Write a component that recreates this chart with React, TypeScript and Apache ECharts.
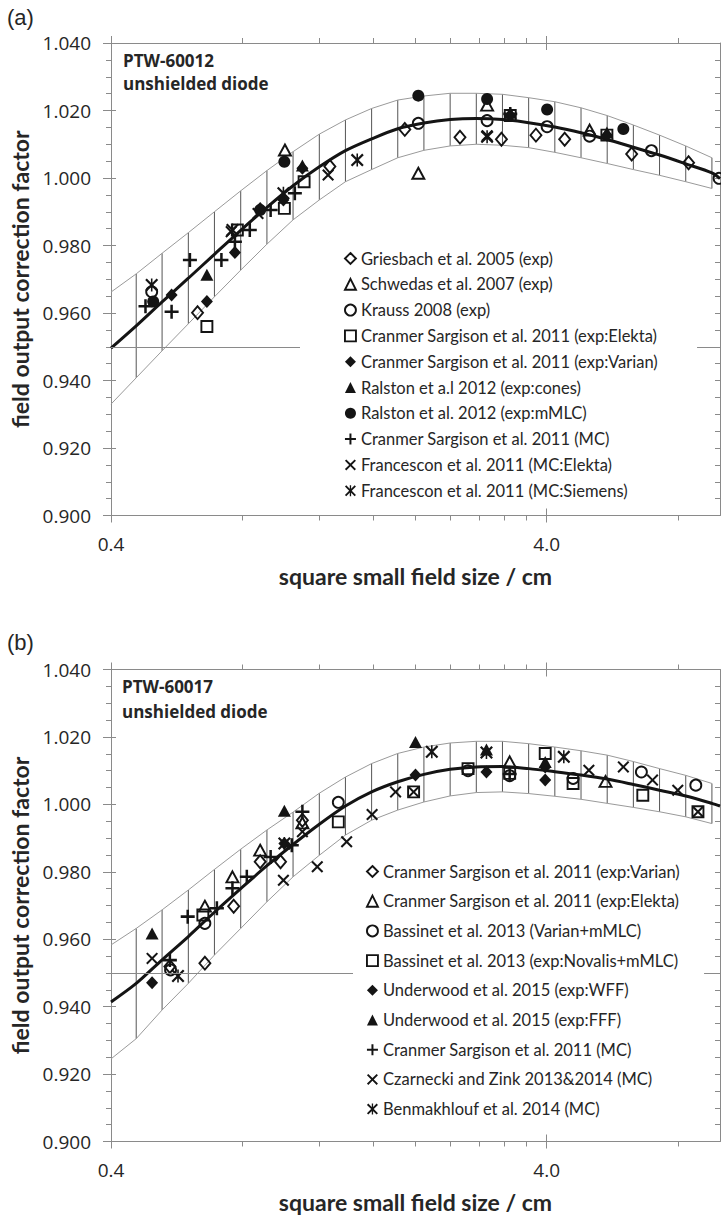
import React, { useEffect, useRef } from 'react';
import * as echarts from 'echarts';

// ---------------- data ----------------
// x positions of the hatch lines of the uncertainty band (cm)
const hatchX = [0.457, 0.524, 0.602, 0.691, 0.794, 0.912, 1.047, 1.203, 1.381, 1.586, 1.821, 2.091, 2.402, 2.758, 3.167, 3.637, 4.177, 4.797, 5.509, 6.326, 7.265, 8.344, 9.582];
const bandX = [0.4, ...hatchX];
const fitX = [0.4, ...hatchX, 10];

// panel (a) band and fit
const bandUpperA = [0.9662, 0.9716, 0.9777, 0.9838, 0.99, 0.9962, 1.0022, 1.0078, 1.013, 1.0172, 1.0206, 1.0231, 1.0243, 1.0251, 1.0251, 1.0248, 1.0238, 1.0226, 1.0208, 1.0185, 1.0157, 1.0127, 1.0095, 1.006];
const bandLowerA = [0.933, 0.9408, 0.9488, 0.9568, 0.9648, 0.9727, 0.9804, 0.9876, 0.9935, 0.9989, 1.0025, 1.006, 1.0082, 1.0095, 1.01, 1.0097, 1.009, 1.0076, 1.006, 1.0043, 1.0025, 1.0008, 0.9989, 0.9969];
const fitA = [0.9496, 0.9562, 0.9633, 0.9703, 0.9774, 0.9845, 0.9913, 0.9977, 1.0033, 1.0081, 1.0116, 1.0146, 1.0163, 1.0173, 1.0176, 1.0173, 1.0164, 1.0151, 1.0134, 1.0114, 1.0091, 1.0068, 1.0042, 1.0015, 0.9998];

// panel (b) band and fit
const bandUpperB = [0.9583, 0.9632, 0.9687, 0.9746, 0.9807, 0.9867, 0.9924, 0.9977, 1.0033, 1.0081, 1.0121, 1.0151, 1.017, 1.0182, 1.0187, 1.0187, 1.018, 1.017, 1.0159, 1.0146, 1.0127, 1.0106, 1.0086, 1.0062];
const bandLowerB = [0.9245, 0.9305, 0.939, 0.9469, 0.9553, 0.9632, 0.9711, 0.9785, 0.9849, 0.9909, 0.9953, 0.9983, 1.0007, 1.0025, 1.0035, 1.0037, 1.0032, 1.0024, 1.0015, 1.0003, 0.9991, 0.9978, 0.9963, 0.9943];
const fitB = [0.9414, 0.9469, 0.9539, 0.9608, 0.968, 0.975, 0.9818, 0.9881, 0.9941, 0.9995, 1.0037, 1.0067, 1.0089, 1.0104, 1.0111, 1.0112, 1.0106, 1.0097, 1.0087, 1.0075, 1.0059, 1.0042, 1.0025, 1.0003, 0.9995];

const refLine = 0.95;

// axis ticks
const xTickMinor = [0.8, 1.2, 1.6, 2.0, 2.4, 2.8, 3.2, 3.6, 8.0];
const xTickMajor = [0.4, 4.0];
const xTickLabels = [0.4, 4.0];

// panel (a) measurements [field size cm, factor]
const griesbach2005 = [[0.632, 0.9601], [1.272, 1.0034], [1.89, 1.0144], [2.53, 1.0121], [3.15, 1.0115], [3.78, 1.0127], [4.4, 1.0115], [6.27, 1.0071], [8.47, 1.0045]];
const schwedas2007 = [[1.003, 1.0083], [2.03, 1.0014], [2.92, 1.0216], [5.02, 1.0142]];
const krauss2008 = [[0.496, 0.9663], [2.03, 1.0162], [2.92, 1.017], [4.01, 1.0152], [5.02, 1.0124], [6.96, 1.0081], [9.95, 0.9999]];
const cranmerElektaA = [[0.664, 0.956], [0.78, 0.9846], [1.0, 0.991], [1.11, 0.9989], [3.3, 1.0185], [5.5, 1.0127]];
const cranmerVarianA = [[0.551, 0.9653], [0.664, 0.9634], [0.77, 0.9779], [0.88, 0.991], [0.995, 0.9935], [1.1, 1.0029], [3.3, 1.0185], [5.5, 1.0127]];
const ralstonCones = [[0.664, 0.9713], [1.1, 1.0037], [3.3, 1.0193], [5.5, 1.0135]];
const ralstonMMLC = [[0.5, 0.9634], [0.88, 0.9905], [1.0, 1.0048], [2.03, 1.0244], [2.92, 1.0234], [4.01, 1.0203], [6.0, 1.0145]];
const cranmerMCA = [[0.48, 0.962], [0.551, 0.9604], [0.607, 0.9757], [0.717, 0.9757], [0.77, 0.9811], [0.833, 0.9846], [0.93, 0.9905], [1.057, 0.9955], [3.3, 1.019]];
const francesconElekta = [[0.755, 0.9841], [0.87, 0.9895], [1.26, 1.0009], [2.92, 1.0125]];
const francesconSiemens = [[0.496, 0.9683], [0.76, 0.9846], [0.995, 0.9955], [1.47, 1.0053], [2.92, 1.0122]];

// panel (b) measurements
const cranmerVarianB = [[0.546, 0.9519], [0.657, 0.9529], [0.765, 0.9698], [0.88, 0.983], [0.98, 0.983], [1.1, 0.9953]];
const cranmerElektaB = [[0.657, 0.9698], [0.76, 0.9785], [0.88, 0.9864], [1.1, 0.9945], [3.29, 1.0126], [5.46, 1.0068]];
const bassinetVarian = [[0.548, 0.9509], [0.657, 0.9647], [1.33, 1.0006], [2.64, 1.01], [3.29, 1.0085], [4.6, 1.0077], [6.6, 1.0096], [8.8, 1.0057]];
const bassinetNovalis = [[0.65, 0.9672], [1.33, 0.9948], [1.98, 1.0037], [2.64, 1.0106], [3.29, 1.0092], [3.97, 1.0151], [4.6, 1.0062], [6.65, 1.0027], [8.9, 0.9978]];
const underwoodWFF = [[0.497, 0.9471], [1.0, 0.9884], [2.0, 1.0087], [2.91, 1.0096], [3.97, 1.0111], [3.97, 1.0072]];
const underwoodFFF = [[0.497, 0.9617], [1.0, 0.9981], [2.0, 1.0185], [2.91, 1.0163], [3.97, 1.0126]];
const cranmerMCB = [[0.546, 0.9538], [0.6, 0.9667], [0.7, 0.9692], [0.76, 0.9751], [0.82, 0.9785], [0.93, 0.9844], [1.04, 0.9879], [1.1, 0.9978], [3.29, 1.009]];
const czarnecki = [[0.497, 0.9543], [0.995, 0.9775], [1.1, 0.9919], [1.19, 0.9815], [1.39, 0.9889], [1.59, 0.997], [1.8, 1.0037], [1.98, 1.0037], [5.0, 1.0101], [6.0, 1.0111], [7.0, 1.0072], [8.0, 1.0042], [8.9, 0.9978]];
const benmakhlouf = [[0.57, 0.9491], [1.0, 0.9884], [2.18, 1.0156], [2.91, 1.0154], [4.38, 1.0141]];

// ---------------- styles ----------------
const INK = '#141414';
const TXT = '#262626';
const AXIS = '#8a8a8a';
const HOLLOW = 'rgba(255,255,255,0)';
const PLUS = 'path://M8.2,0H11.8V8.2H20V11.8H11.8V20H8.2V11.8H0V8.2H8.2Z';
const CROSS = 'path://M0,2.4L2.4,0L10,7.6L17.6,0L20,2.4L12.4,10L20,17.6L17.6,20L10,12.4L2.4,20L0,17.6L7.6,10Z';
const STAR = 'path://M0,2.4L2.4,0L10,7.6L17.6,0L20,2.4L12.4,10L20,17.6L17.6,20L10,12.4L2.4,20L0,17.6L7.6,10ZM8.8,0H11.2V20H8.8Z';

type Mark = { symbol: string; size: number | number[]; style: any };
const hollow = { color: HOLLOW, borderColor: INK, borderWidth: 1.9, opacity: 1 };
const solid = { color: INK, borderWidth: 0, opacity: 1 };
const M: Record<string, Mark> = {
  openDiamond: { symbol: 'diamond', size: [11, 13], style: hollow },
  openTriangle: { symbol: 'triangle', size: [12, 11], style: hollow },
  openCircle: { symbol: 'circle', size: 11, style: hollow },
  openSquare: { symbol: 'rect', size: 11, style: hollow },
  filledDiamond: { symbol: 'diamond', size: [12, 13], style: solid },
  filledTriangle: { symbol: 'triangle', size: [13, 12], style: solid },
  filledCircle: { symbol: 'circle', size: 12, style: solid },
  plus: { symbol: PLUS, size: 14, style: solid },
  cross: { symbol: CROSS, size: 12, style: solid },
  star: { symbol: STAR, size: 13, style: solid },
};

const panelASeries: [string, number[][], string][] = [
  ['Griesbach et al. 2005 (exp)', griesbach2005, 'openDiamond'],
  ['Schwedas et al. 2007 (exp)', schwedas2007, 'openTriangle'],
  ['Krauss 2008 (exp)', krauss2008, 'openCircle'],
  ['Cranmer Sargison et al. 2011 (exp:Elekta)', cranmerElektaA, 'openSquare'],
  ['Cranmer Sargison et al. 2011 (exp:Varian)', cranmerVarianA, 'filledDiamond'],
  ['Ralston et a.l 2012 (exp:cones)', ralstonCones, 'filledTriangle'],
  ['Ralston et al. 2012 (exp:mMLC)', ralstonMMLC, 'filledCircle'],
  ['Cranmer Sargison et al. 2011 (MC)', cranmerMCA, 'plus'],
  ['Francescon et al. 2011 (MC:Elekta)', francesconElekta, 'cross'],
  ['Francescon et al. 2011 (MC:Siemens)', francesconSiemens, 'star'],
];
const panelBSeries: [string, number[][], string][] = [
  ['Cranmer Sargison et al. 2011 (exp:Varian)', cranmerVarianB, 'openDiamond'],
  ['Cranmer Sargison et al. 2011 (exp:Elekta)', cranmerElektaB, 'openTriangle'],
  ['Bassinet et al. 2013 (Varian+mMLC)', bassinetVarian, 'openCircle'],
  ['Bassinet et al. 2013 (exp:Novalis+mMLC)', bassinetNovalis, 'openSquare'],
  ['Underwood et al. 2015 (exp:WFF)', underwoodWFF, 'filledDiamond'],
  ['Underwood et al. 2015 (exp:FFF)', underwoodFFF, 'filledTriangle'],
  ['Cranmer Sargison et al. 2011 (MC)', cranmerMCB, 'plus'],
  ['Czarnecki and Zink 2013&2014 (MC)', czarnecki, 'cross'],
  ['Benmakhlouf et al. 2014 (MC)', benmakhlouf, 'star'],
];

const GRIDS = [
  { top: 43, height: 472.5 },
  { top: 669.5, height: 472 },
];

const tickLine = { color: AXIS, width: 1 };

function xAxesFor(g: number) {
  const base: any = {
    type: 'log', logBase: 10, min: 0.4, max: 10, gridIndex: g, silent: true,
    splitLine: { show: false }, axisLine: { show: false, onZero: false },
    axisTick: { show: false }, axisLabel: { show: false },
  };
  return [
    {
      ...base, position: 'bottom',
      axisLine: { show: true, onZero: false, lineStyle: tickLine },
      axisTick: { show: true, customValues: xTickMinor, length: 5, lineStyle: tickLine },
      axisLabel: {
        show: true, customValues: xTickLabels, formatter: (v: number) => Number(v).toFixed(1),
        margin: 19, fontFamily: 'Open Sans', fontSize: 19, color: TXT,
      },
      name: 'square small field size / cm', nameLocation: 'middle', nameGap: 49,
      nameTextStyle: { fontFamily: 'Lato', fontWeight: 'bold', fontSize: 23, color: TXT },
    },
    { ...base, position: 'bottom', axisTick: { show: true, customValues: xTickMajor, length: 7, lineStyle: tickLine } },
    { ...base, position: 'bottom', axisTick: { show: true, inside: true, customValues: [4], length: 7, lineStyle: tickLine } },
    {
      ...base, position: 'top',
      axisLine: { show: true, onZero: false, lineStyle: tickLine },
      axisTick: { show: true, customValues: xTickMinor, length: 5, lineStyle: tickLine },
    },
    { ...base, position: 'top', axisTick: { show: true, customValues: xTickMajor, length: 7, lineStyle: tickLine } },
    { ...base, position: 'top', axisTick: { show: true, inside: true, customValues: [4], length: 7, lineStyle: tickLine } },
  ];
}

function yAxesFor(g: number) {
  const base: any = {
    type: 'value', min: 0.9, max: 1.04, interval: 0.02, gridIndex: g, silent: true,
    splitLine: { show: false }, axisLine: { show: false, onZero: false },
    axisTick: { show: false }, axisLabel: { show: false },
  };
  return [
    {
      ...base, position: 'left',
      axisLine: { show: true, onZero: false, lineStyle: tickLine },
      axisTick: { show: true, length: 8, lineStyle: tickLine },
      minorTick: { show: true, splitNumber: 4, length: 5, lineStyle: tickLine },
      axisLabel: {
        show: true, formatter: (v: number) => v.toFixed(3), margin: 20,
        fontFamily: 'Open Sans', fontSize: 19, color: TXT,
      },
      name: 'field output correction factor', nameLocation: 'middle', nameRotate: 90, nameGap: 79,
      nameTextStyle: { fontFamily: 'Lato', fontWeight: 'bold', fontSize: 23, color: TXT },
    },
    { ...base, position: 'left', axisTick: { show: true, inside: true, length: 5, lineStyle: tickLine } },
    {
      ...base, position: 'right',
      axisLine: { show: true, onZero: false, lineStyle: tickLine },
      axisTick: { show: true, inside: true, length: 5, lineStyle: tickLine },
      minorTick: { show: true, splitNumber: 4, length: 5, lineStyle: tickLine },
    },
  ];
}

function zip(xs: number[], ys: number[]) {
  return xs.map((x, i) => [x, ys[i]]);
}

function panelSeries(g: number, upper: number[], lower: number[], fit: number[], pts: [string, number[][], string][]) {
  const xi = g * 6;
  const yi = g * 3;
  const out: any[] = [
    {
      type: 'line', xAxisIndex: xi, yAxisIndex: yi, data: zip(bandX, upper), symbol: 'none', silent: true,
      lineStyle: { color: '#9a9a9a', width: 1 }, z: 1,
    },
    {
      type: 'line', xAxisIndex: xi, yAxisIndex: yi, data: zip(bandX, lower), symbol: 'none', silent: true,
      lineStyle: { color: '#9a9a9a', width: 1 }, z: 1,
    },
    {
      type: 'custom', xAxisIndex: xi, yAxisIndex: yi, silent: true, z: 1,
      data: hatchX.map((x, i) => [x, lower[i + 1], upper[i + 1]]),
      renderItem: (_p: any, api: any) => {
        const a = api.coord([api.value(0), api.value(1)]);
        const b = api.coord([api.value(0), api.value(2)]);
        return { type: 'line', shape: { x1: a[0], y1: a[1], x2: b[0], y2: b[1] }, style: { stroke: '#555555', lineWidth: 1 } };
      },
    },
    {
      type: 'line', xAxisIndex: xi, yAxisIndex: yi, data: zip(fitX, fit), symbol: 'none', smooth: 0.3, silent: true,
      lineStyle: { color: '#141414', width: 3 }, z: 2,
      markLine: {
        silent: true, symbol: 'none', label: { show: false }, animation: false,
        lineStyle: { color: '#8a8a8a', width: 1, type: 'solid' },
        data: [{ yAxis: refLine }],
      },
    },
  ];
  pts.forEach(([name, data, key]) => {
    const m = M[key];
    out.push({
      type: 'scatter', name, xAxisIndex: xi, yAxisIndex: yi, data,
      symbol: m.symbol, symbolSize: m.size, itemStyle: m.style, z: 3, silent: true,
    });
  });
  return out;
}

function legendFor(pts: [string, number[][], string][], left: number, top: number, gap: number, padding: number[]) {
  return {
    orient: 'vertical', left, top, itemWidth: 11, itemHeight: 11, itemGap: gap, padding,
    backgroundColor: '#ffffff', selectedMode: false, z: 10,
    textStyle: { fontFamily: 'Lato', fontSize: 16.5, color: TXT, lineHeight: 17 },
    data: pts.map(([name, , key]) => ({ name, icon: M[key].symbol, itemStyle: { ...M[key].style } })),
  };
}

function buildOption() {
  const textStyle = (text: string, size: number, bold: boolean, family: string) => ({
    text, fontSize: size, fontWeight: bold ? 'bold' : 'normal', fontFamily: family, fill: TXT, verticalAlign: 'middle',
  });
  return {
    animation: false,
    backgroundColor: '#ffffff',
    grid: GRIDS.map((g) => ({ left: 111, right: 1, top: g.top, height: g.height, containLabel: false })),
    xAxis: [...xAxesFor(0), ...xAxesFor(1)],
    yAxis: [...yAxesFor(0), ...yAxesFor(1)],
    legend: [
      legendFor(panelASeries, 300, 240, 8.8, [10, 39, 6, 44]),
      legendFor(panelBSeries, 353, 857, 12.7, [6, 24, 6, 13]),
    ],
    graphic: [
      { type: 'text', x: 7, y: 17, style: textStyle('(a)', 22, false, 'Liberation Sans') },
      { type: 'text', x: 7, y: 642, style: textStyle('(b)', 22, false, 'Liberation Sans') },
      { type: 'text', x: 123, y: 60, style: textStyle('PTW-60012', 17, true, 'Open Sans') },
      { type: 'text', x: 123, y: 83.5, style: textStyle('unshielded diode', 17, true, 'Open Sans') },
      { type: 'text', x: 122, y: 686, style: textStyle('PTW-60017', 17, true, 'Open Sans') },
      { type: 'text', x: 122, y: 711, style: textStyle('unshielded diode', 17, true, 'Open Sans') },
    ],
    series: [
      ...panelSeries(0, bandUpperA, bandLowerA, fitA, panelASeries),
      ...panelSeries(1, bandUpperB, bandLowerB, fitB, panelBSeries),
    ],
  };
}

export default function App() {
  const ref = useRef<HTMLDivElement>(null);
  useEffect(() => {
    if (!ref.current) return;
    const chart = echarts.init(ref.current, null, { renderer: 'svg' });
    chart.setOption(buildOption() as any);
    return () => chart.dispose();
  }, []);
  return (
    <div
      ref={ref}
      style={{ position: 'absolute', left: 0, top: 0, width: 721, height: 1216, background: '#fff' }}
    />
  );
}
